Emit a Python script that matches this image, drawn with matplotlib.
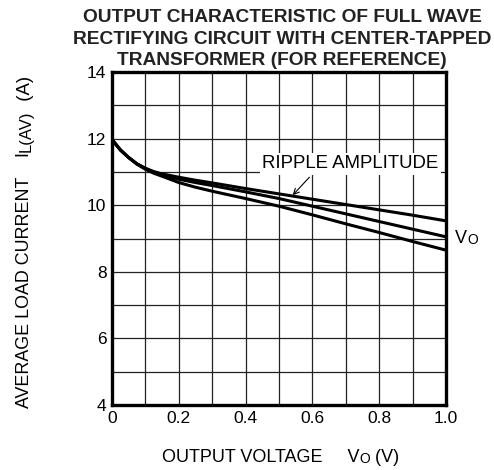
import matplotlib
matplotlib.use('Agg')
import matplotlib.pyplot as plt

plt.rcParams['font.family'] = ['Liberation Sans', 'DejaVu Sans']

# 출력 전압 (V)
vo = [0, 0.025, 0.05, 0.075, 0.1, 0.125, 0.15, 0.2, 0.25, 0.3, 0.4, 0.5, 0.6, 0.7, 0.8, 0.9, 1.0]
# 평균 부하 전류 (A) - 리플 진폭별 3개 곡선
il_top = [11.97, 11.66, 11.43, 11.24, 11.11, 11.01, 10.94, 10.84, 10.75, 10.67, 10.50, 10.34, 10.18, 10.02, 9.86, 9.70, 9.53]
il_mid = [11.97, 11.66, 11.43, 11.24, 11.10, 10.99, 10.91, 10.78, 10.68, 10.59, 10.40, 10.20, 9.97, 9.74, 9.51, 9.28, 9.05]
il_bot = [11.97, 11.66, 11.43, 11.23, 11.08, 10.96, 10.87, 10.68, 10.54, 10.42, 10.20, 9.97, 9.71, 9.44, 9.18, 8.91, 8.65]

x_ticks = [0, 0.2, 0.4, 0.6, 0.8, 1.0]
x_ticklabels = ['0', '0.2', '0.4', '0.6', '0.8', '1.0']
y_ticks = [4, 6, 8, 10, 12, 14]

title_lines = ['OUTPUT CHARACTERISTIC OF FULL WAVE',
               'RECTIFYING CIRCUIT WITH CENTER-TAPPED',
               'TRANSFORMER (FOR REFERENCE)']

fig = plt.figure(figsize=(4.94, 4.70), dpi=100)
ax = fig.add_axes([112/494, 1-405/470, 334/494, 333/470])

for y in [il_top, il_mid, il_bot]:
    ax.plot(vo, y, color='black', lw=2.2, solid_capstyle='butt', zorder=3)

ax.set_xlim(0, 1.0)
ax.set_ylim(4, 14)
ax.set_xticks(x_ticks)
ax.set_xticklabels(x_ticklabels)
ax.set_yticks(y_ticks)
ax.set_xticks([i / 10 for i in range(11)], minor=True)
ax.set_yticks(range(4, 15), minor=True)
ax.grid(which='both', color='#222222', lw=0.9)
ax.tick_params(which='both', length=0, labelsize=12.5, pad=4)
for s in ax.spines.values():
    s.set_linewidth(2.4)

# 제목 (줄마다 따로)
for i, line in enumerate(title_lines):
    fig.text(282/494, 1-(9 + 21.5*i)/470, line, fontsize=13.8, fontweight='bold',
             ha='center', va='top', color='#222222')

# 리플 진폭 라벨 + 화살표
ax.text(0.713, 11.24, 'RIPPLE AMPLITUDE', ha='center', va='center', fontsize=13.4, zorder=4,
        bbox=dict(boxstyle='square,pad=0.12', fc='white', ec='none'))
ax.annotate('', xy=(0.541, 10.30), xytext=(0.591, 10.84),
            arrowprops=dict(arrowstyle='->', lw=0.8, color='black', shrinkA=0, shrinkB=0))

# 오른쪽 Vo
t = ax.text(1.027, 9.0, 'V', fontsize=13, ha='left', va='center', transform=ax.transData, clip_on=False)
ax.annotate('O', xy=(1, 0), xycoords=t, ha='left', va='bottom', fontsize=10)

# x축 라벨
t1 = fig.text(162/494, 0.008, 'OUTPUT VOLTAGE     V', fontsize=13, ha='left', va='bottom')
t2 = fig.add_artist(plt.Annotation('O', xy=(1, 0), xycoords=t1, ha='left', va='bottom', fontsize=10))
fig.add_artist(plt.Annotation(' (V)', xy=(1, 0), xycoords=t2, ha='left', va='bottom', fontsize=13))

# y축 라벨
s1 = fig.text(25/494, 1-408/470, 'AVERAGE LOAD CURRENT    I', fontsize=12.9, rotation=90, ha='center', va='bottom')
s2 = fig.add_artist(plt.Annotation('L(AV)', xy=(1, 1), xycoords=s1, rotation=90, ha='right', va='bottom', fontsize=12))
fig.add_artist(plt.Annotation('  (A)', xy=(1, 1), xycoords=s2, rotation=90, ha='right', va='bottom', fontsize=13.4))

fig.savefig('out.png', dpi=100)
